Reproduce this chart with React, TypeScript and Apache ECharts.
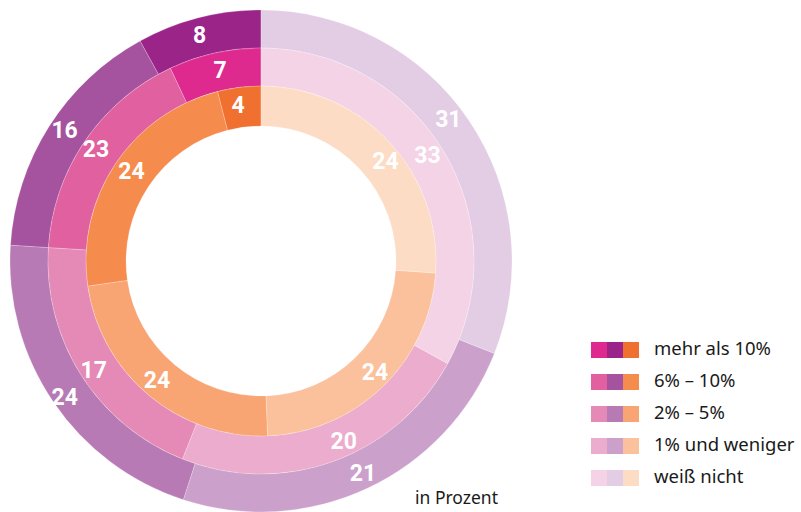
import React, { useEffect, useRef } from "react";
import * as echarts from "echarts";

const categories = ["mehr als 10%", "6% – 10%", "2% – 5%", "1% und weniger", "weiß nicht"];
const ringNames = ["Alle", "KMU", "KRITIS"];

// arc shares as drawn in the picture
const alleValues = [8, 16, 21, 24, 31];
const kmuValues = [7, 17, 20, 23, 33];
const kritisValues = [4, 23.3, 23.3, 23.3, 26.1];

// numbers printed on the arcs
const alleLabels = [8, 16, 24, 21, 31];
const kmuLabels = [7, 23, 17, 20, 33];
const kritisLabels = [4, 24, 24, 24, 24];

const alleColors = ["#9B2489", "#A5529F", "#B77AB4", "#CBA0CB", "#E2CDE4"];
const kmuColors = ["#DE2A8E", "#E060A0", "#E589B6", "#ECACCD", "#F4D3E6"];
const kritisColors = ["#F07030", "#F68B4E", "#F8A573", "#FBC19C", "#FDDCC6"];

// small label nudges (px) to match the original hand placement
const alleNudge = [[-3, 2], [2, -5], [-2, 4], [2, 0], [-7, -9]];
const kmuNudge = [[2, 2], [-2, -1], [-1, 4], [16, -5], [-3, -5]];
const kritisNudge = [[-3, 1], [2, -2], [-3, -2], [4, -2], [9, 8]];

const CX = 261;
const CY = 261;

function ring(
  name: string,
  values: number[],
  labels: number[],
  colors: string[],
  nudge: number[][],
  r0: number,
  r1: number
) {
  return {
    type: "pie",
    name,
    center: [CX, CY],
    radius: [r0, r1],
    startAngle: 90,
    clockwise: false,
    silent: true,
    avoidLabelOverlap: false,
    labelLayout: { hideOverlap: false },
    labelLine: { show: false },
    label: {
      show: true,
      position: "inside",
      formatter: (p: any) => String(labels[p.dataIndex]),
      color: "#ffffff",
      fontFamily: "Roboto",
      fontWeight: "bold",
      fontSize: 23,
    },
    itemStyle: { borderColor: "rgba(255,255,255,0.35)", borderWidth: 0.6 },
    data: values.map((v, i) => ({
      name: categories[i],
      value: v,
      itemStyle: { color: colors[i] },
      label: { offset: nudge[i] },
    })),
  };
}

export default function App() {
  const ref = useRef<HTMLDivElement>(null);
  useEffect(() => {
    if (!ref.current) return;
    const chart = echarts.init(ref.current, undefined, { renderer: "svg" });
    const gfx: any[] = [];
    categories.forEach((c, i) => {
      const y = 342 + i * 32;
      [kmuColors[i], alleColors[i], kritisColors[i]].forEach((col, j) => {
        gfx.push({
          type: "rect",
          left: 591 + j * 16,
          top: y,
          shape: { width: 16, height: 16 },
          style: { fill: col },
        });
      });
      gfx.push({
        type: "text",
        left: 654,
        top: y - 4,
        style: { text: c, fill: "#1a1a1a", font: "18.5px 'Noto Sans'" },
      });
    });
    const ringLabelY = [20, 60, 100];
    ringNames.forEach((n, i) => {
      gfx.push({
        type: "text",
        left: 267,
        top: ringLabelY[i],
        style: { text: n, fill: "#555555", font: "18px Roboto" },
      });
    });
    gfx.push({
      type: "text",
      left: 415,
      top: 488,
      style: { text: "in Prozent", fill: "#1a1a1a", font: "17.5px 'Noto Sans'" },
    });
    chart.setOption({
      animation: false,
      backgroundColor: "#ffffff",
      series: [
        ring(ringNames[0], alleValues, alleLabels, alleColors, alleNudge, 213, 251),
        ring(ringNames[1], kmuValues, kmuLabels, kmuColors, kmuNudge, 175, 213),
        ring(ringNames[2], kritisValues, kritisLabels, kritisColors, kritisNudge, 135, 175),
      ],
      graphic: gfx,
    });
    return () => chart.dispose();
  }, []);
  return (
    <div
      ref={ref}
      style={{ position: "fixed", left: 0, top: 0, width: 801, height: 512 }}
    />
  );
}
